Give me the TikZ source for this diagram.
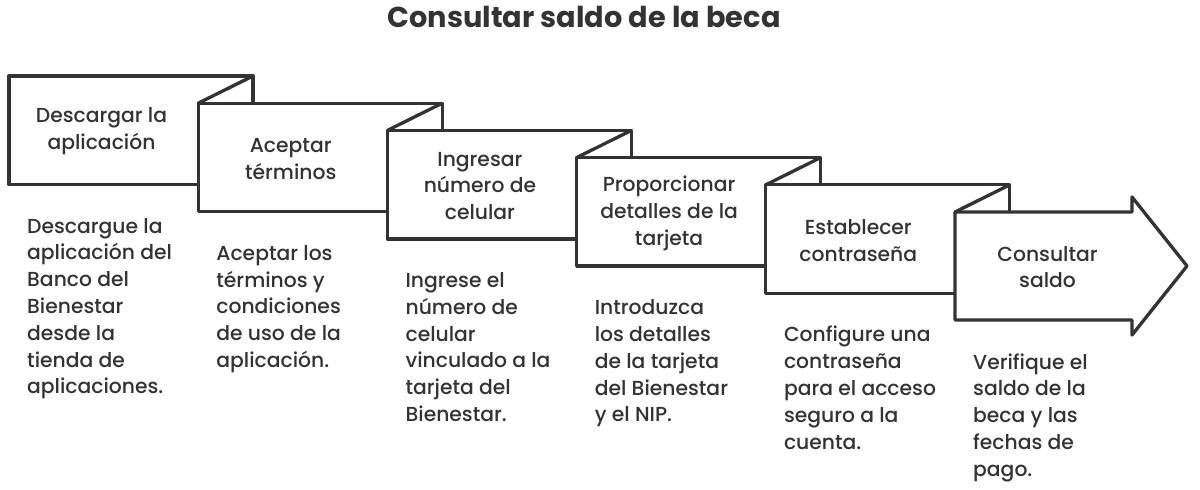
\documentclass[tikz,border=0pt]{standalone}
\usepackage{fontspec}
\setmainfont{Poppins}[UprightFont={* Medium}]
\newfontfamily\titlefont{Poppins}
\definecolor{ink}{HTML}{333333}
\newcommand{\bodysize}{\fontsize{20.3}{26.8}\selectfont}
\newcommand{\desctext}[1]{\parbox[t]{175pt}{\raggedright\bodysize #1}}
\begin{document}
\begin{tikzpicture}[x=1pt,y=-1pt,
  stepbox/.style={draw=ink, line width=3.3pt, fill=white, rectangle,
    minimum width=244pt, minimum height=108.5pt, anchor=north west,
    inner sep=0pt, outer sep=0pt, line join=round},
  fold/.style={draw=ink, line width=3.3pt, line cap=round, line join=round},
  steplabel/.style={text=ink, font=\bodysize, align=center, inner sep=0pt},
  desc/.style={text=ink, anchor=base west, inner sep=0pt}]
\fill[white] (0,0) rectangle (1200,490);
\useasboundingbox (0,0) rectangle (1200,490);

\node[text=ink, font=\titlefont\fontsize{28.8}{32}\selectfont\bfseries] (title) at (584,17) {Consultar saldo de la beca};

% boxes
\node[stepbox] (b1) at (9,76) {};
\node[stepbox] (b2) at (198.2,103.2) {};
\draw[fold] (b1.north east) -- (b2.north west);
\node[stepbox] (b3) at (387.4,130.4) {};
\draw[fold] (b2.north east) -- (b3.north west);
\node[stepbox] (b4) at (576.6,157.6) {};
\draw[fold] (b3.north east) -- (b4.north west);
\node[stepbox] (b5) at (765.8,184.8) {};
\draw[fold] (b4.north east) -- (b5.north west);
\coordinate (b6) at (955,212);
\draw[draw=ink, line width=3.3pt, fill=white, line join=round]
  (b6) -- (1132,212) -- (1132,197) -- (1187,266) -- (1132,335) -- (1132,320) -- (955,320) -- cycle;
\draw[fold] (b5.north east) -- (b6);

% step labels
\node[steplabel] (t1) at (101.5,131.5) {Descargar la\\aplicación};
\node[steplabel] (t2) at (290.7,158.7) {Aceptar\\términos};
\node[steplabel] (t3) at (479.9,185.9) {Ingresar\\número de\\celular};
\node[steplabel] (t4) at (669.1,213.1) {Proporcionar\\detalles de la\\tarjeta};
\node[steplabel] (t5) at (858.3,240.3) {Establecer\\contraseña};
\node[steplabel] (t6) at (1047.5,267) {Consultar\\saldo};

% descriptions
\node[desc] (d1) at (27,233) {\desctext{Descargue la\\aplicación del\\Banco del\\Bienestar\\desde la\\tienda de\\aplicaciones.}};
\node[desc] (d2) at (216.2,260.2) {\desctext{Aceptar los\\términos y\\condiciones\\de uso de la\\aplicación.}};
\node[desc] (d3) at (405.4,287.4) {\desctext{Ingrese el\\número de\\celular\\vinculado a la\\tarjeta del\\Bienestar.}};
\node[desc] (d4) at (594.6,314.6) {\desctext{Introduzca\\los detalles\\de la tarjeta\\del Bienestar\\y el NIP.}};
\node[desc] (d5) at (783.8,341.8) {\desctext{Configure una\\contraseña\\para el acceso\\seguro a la\\cuenta.}};
\node[desc] (d6) at (973,369) {\desctext{Verifique el\\saldo de la\\beca y las\\fechas de\\pago.}};
\end{tikzpicture}
\end{document}
